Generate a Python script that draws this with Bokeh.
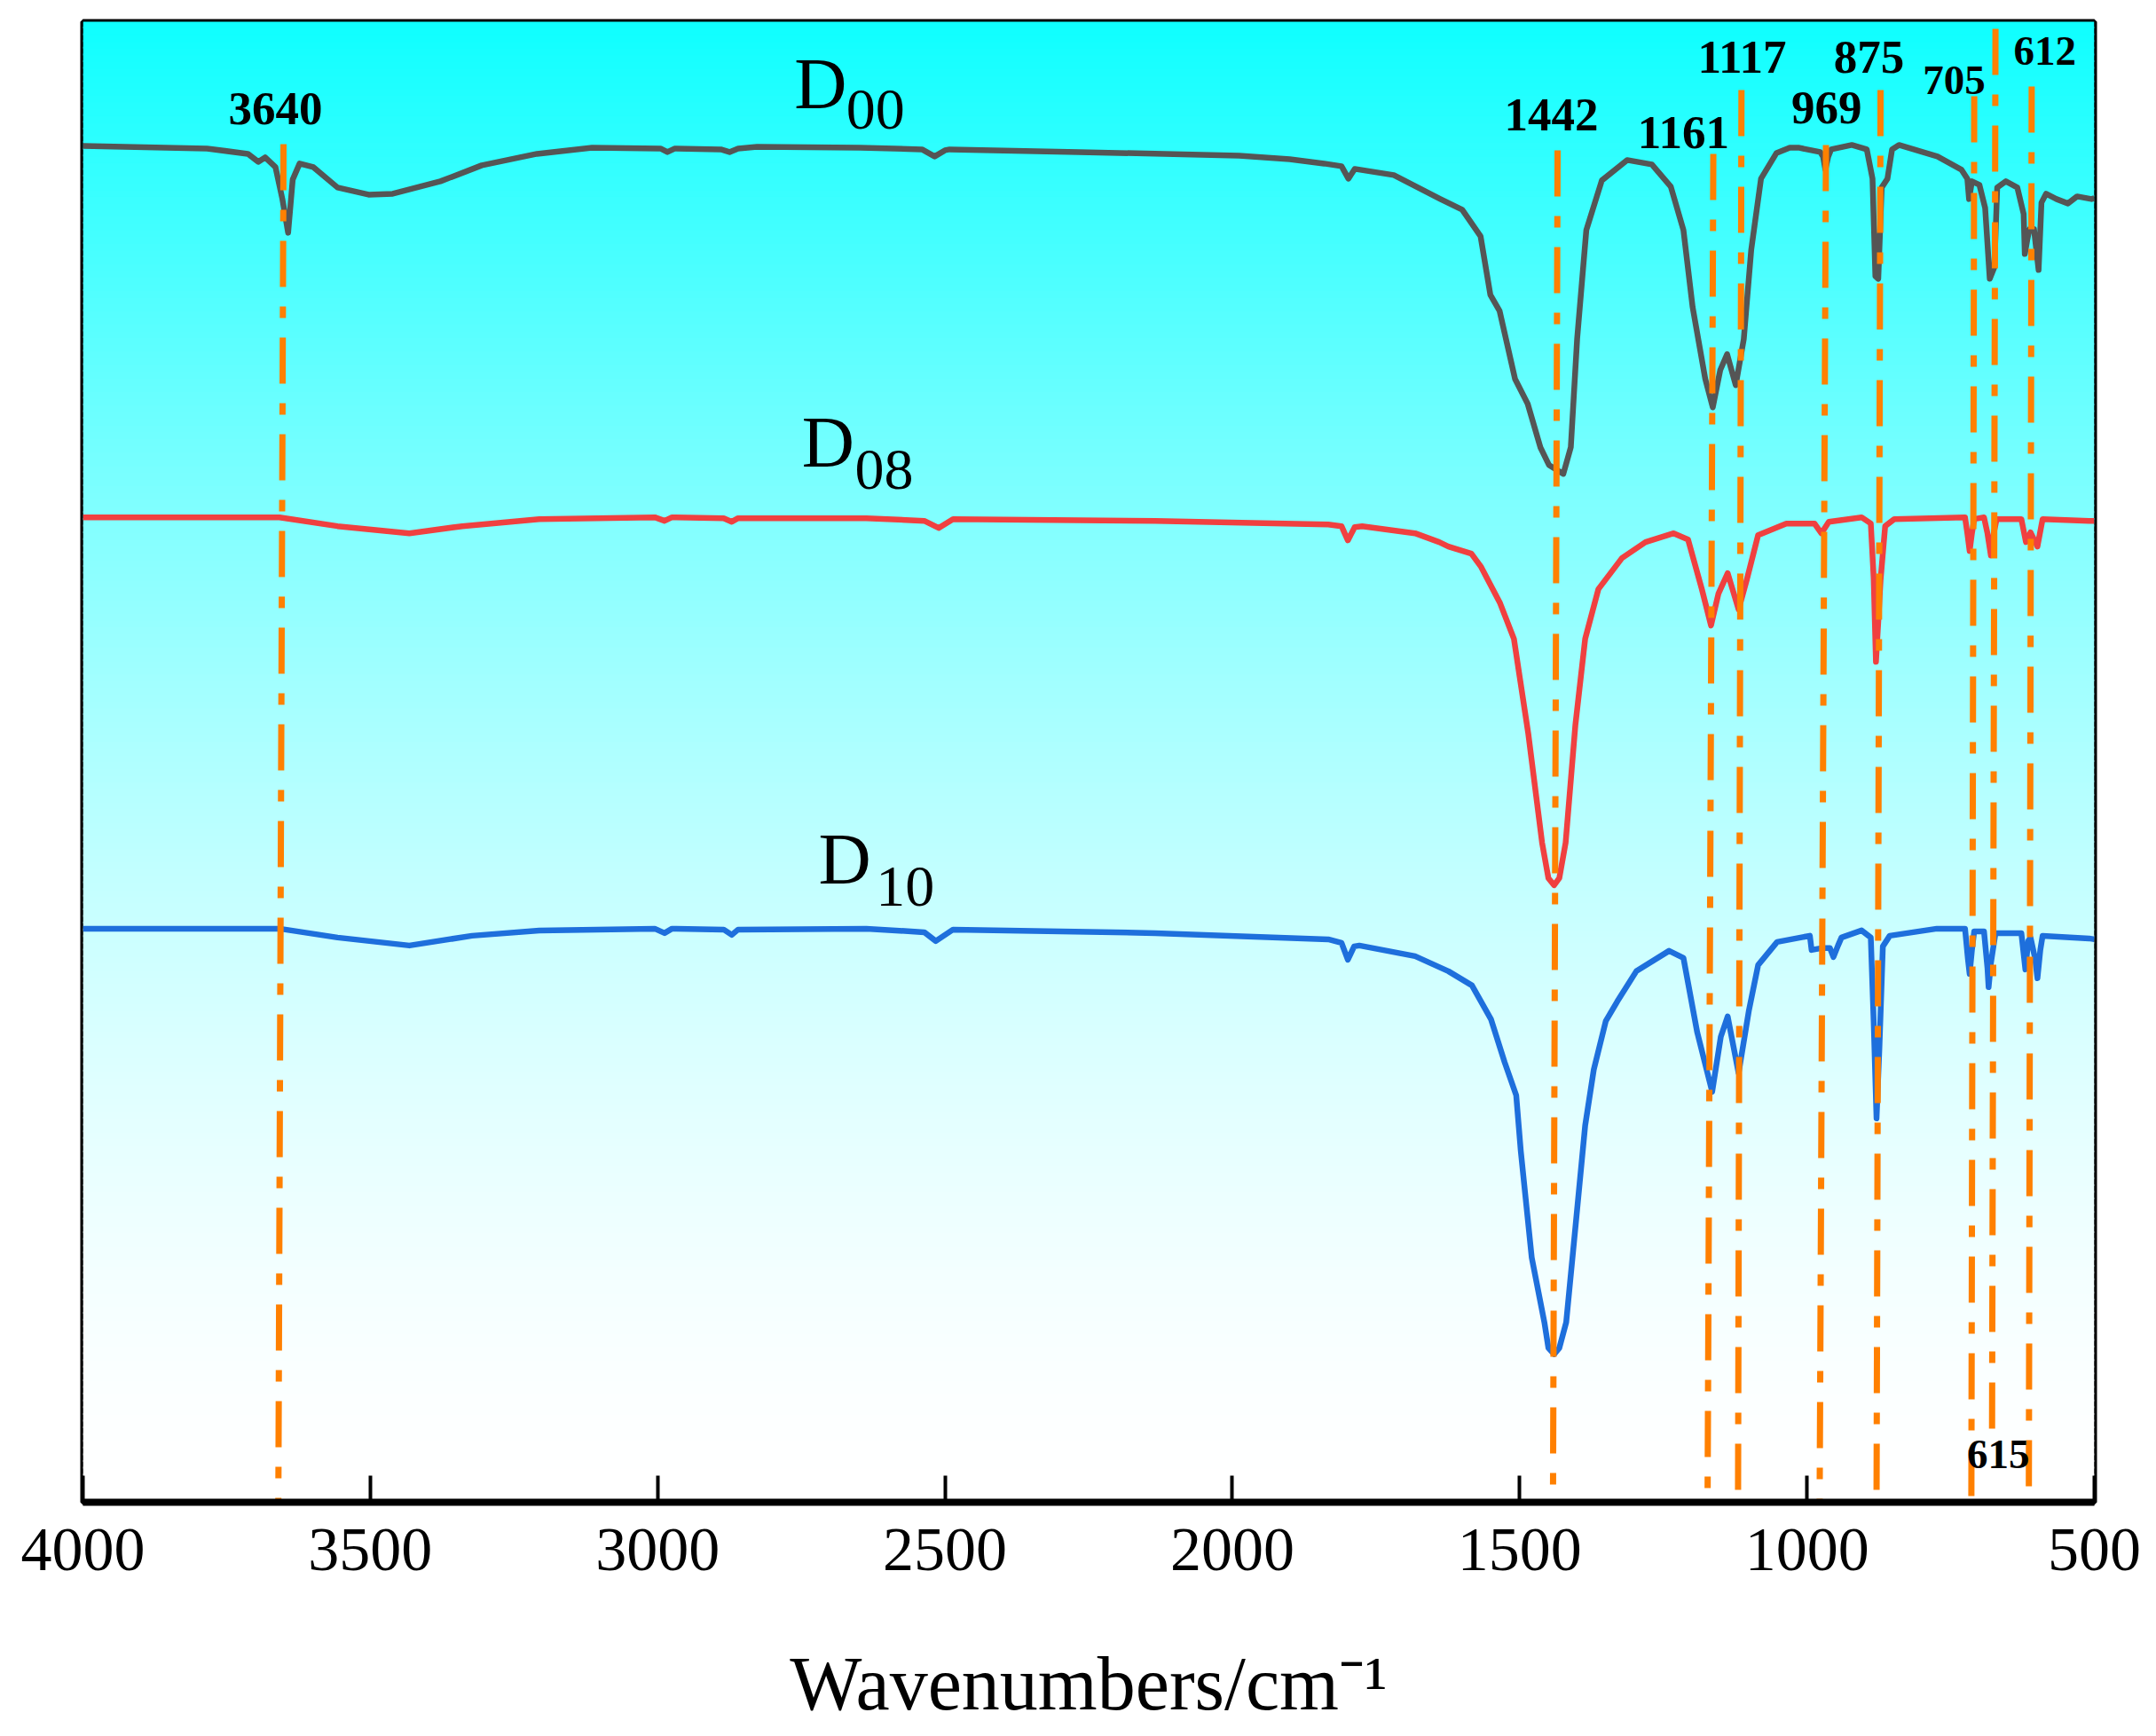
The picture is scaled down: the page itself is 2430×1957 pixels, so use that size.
import numpy as np
from bokeh.plotting import figure
from bokeh.models import Range1d, FixedTicker
from bokeh.core.properties import value
from bokeh.embed import file_html
from bokeh.resources import INLINE

# FTIR spectra (wavenumber cm-1, offset transmittance a.u.)
d00_wn = [4000, 3784, 3713, 3695, 3683, 3665, 3653, 3643, 3635, 3623, 3599, 3557, 3503, 3461,
          3378, 3306, 3210, 3114, 2995, 2983, 2970, 2890, 2875, 2860, 2827, 2648, 2540, 2518,
          2500, 2492, 2267, 1988, 1900, 1840, 1810, 1798, 1787, 1719, 1638, 1600, 1568, 1551,
          1535, 1508, 1486, 1464, 1449, 1424, 1411, 1400, 1384, 1357, 1313, 1270, 1237, 1215,
          1199, 1177, 1164, 1151, 1139, 1124, 1110, 1097, 1080, 1053, 1030, 1015, 977, 972,
          968, 963, 958, 922, 896, 886, 881, 876, 870, 860, 852, 840, 773, 731, 721, 718, 713,
          700, 690, 682, 674, 669, 654, 634, 623, 621, 617, 613, 605, 597, 592, 584, 566, 546,
          530, 505, 500]
d00_t = [153.0, 152.7, 152.1, 151.2, 151.7, 150.6, 147.0, 143.2, 149.2, 151.0, 150.6, 148.3,
         147.5, 147.6, 149.0, 150.8, 152.1, 152.8, 152.7, 152.3, 152.7, 152.6, 152.3, 152.7,
         152.9, 152.8, 152.6, 151.8, 152.5, 152.6, 152.3, 151.9, 151.5, 151.0, 150.7, 149.3,
         150.4, 149.7, 147.0, 145.8, 142.8, 136.2, 134.4, 126.7, 123.9, 119.0, 117.0, 116.0,
         119.0, 131.2, 143.5, 149.1, 151.4, 150.9, 148.4, 143.5, 134.8, 126.7, 123.5, 127.7,
         129.5, 126.0, 131.2, 141.3, 149.3, 152.2, 152.8, 152.8, 152.3, 151.8, 150.3, 151.8,
         152.6, 153.1, 152.6, 149.3, 138.3, 138.0, 148.3, 149.3, 152.6, 153.1, 151.8, 150.3,
         149.3, 147.0, 149.0, 148.6, 146.0, 138.0, 139.3, 148.3, 149.0, 148.3, 145.3, 140.8,
         142.3, 143.6, 143.6, 139.0, 146.6, 147.6, 147.0, 146.5, 147.3, 147.0, 147.1]

d08_wn = [4000, 3658, 3557, 3432, 3340, 3206, 3005, 2988, 2975, 2885, 2871, 2860, 2637, 2536,
          2511, 2486, 2134, 1833, 1810, 1799, 1787, 1774, 1682, 1640, 1624, 1584, 1567, 1534,
          1510, 1485, 1461, 1450, 1440, 1431, 1420, 1403, 1386, 1363, 1322, 1281, 1232, 1207,
          1183, 1167, 1154, 1138, 1119, 1105, 1085, 1036, 987, 975, 962, 905, 889, 884, 880,
          876, 872, 864, 848, 725, 721, 717, 713, 709, 692, 686, 680, 675, 670, 627, 619, 611,
          599, 590, 509, 500]
d08_t = [111.1, 111.1, 110.1, 109.3, 110.1, 110.9, 111.1, 110.7, 111.1, 111.0, 110.6, 111.0,
         111.0, 110.7, 109.9, 110.9, 110.7, 110.3, 110.1, 108.5, 110.0, 110.1, 109.3, 108.3,
         107.8, 107.0, 105.5, 101.4, 97.4, 86.7, 74.4, 70.4, 69.6, 70.4, 74.4, 87.7, 97.4,
         103.0, 106.5, 108.3, 109.3, 108.6, 103.0, 98.9, 102.5, 104.8, 100.7, 104.0, 109.1,
         110.4, 110.4, 109.3, 110.6, 111.1, 110.4, 104.3, 94.8, 99.3, 104.0, 110.1, 110.9,
         111.1, 109.3, 107.3, 109.3, 110.9, 111.1, 109.3, 106.8, 109.3, 110.9, 110.9, 108.3,
         109.4, 107.8, 110.9, 110.7, 110.7]

d10_wn = [4000, 3658, 3557, 3432, 3323, 3206, 3005, 2988, 2975, 2885, 2871, 2860, 2637, 2536,
          2516, 2486, 2134, 1833, 1810, 1799, 1788, 1779, 1682, 1624, 1583, 1550, 1526, 1506,
          1498, 1479, 1457, 1450, 1440, 1431, 1419, 1403, 1386, 1371, 1350, 1330, 1297, 1240,
          1215, 1191, 1165, 1150, 1138, 1119, 1101, 1085, 1052, 995, 992, 975, 960, 954, 946,
          940, 905, 889, 884, 879, 874, 868, 856, 774, 725, 720, 717, 713, 709, 692, 686, 684,
          680, 672, 627, 620, 615, 611, 603, 599, 594, 590, 509, 500]
d10_t = [64.7, 64.7, 63.7, 62.8, 63.9, 64.5, 64.7, 64.2, 64.7, 64.6, 64.0, 64.6, 64.7, 64.3,
         63.3, 64.6, 64.2, 63.5, 63.1, 61.2, 62.7, 62.8, 61.6, 59.9, 58.3, 54.5, 49.6, 45.9,
         39.6, 27.6, 20.3, 17.4, 16.7, 17.4, 20.3, 31.0, 42.5, 48.8, 54.3, 56.5, 59.9, 62.2,
         61.4, 53.0, 46.3, 52.5, 54.8, 48.4, 55.5, 60.6, 63.2, 63.9, 62.3, 62.5, 62.5, 61.5,
         62.8, 63.7, 64.5, 63.7, 54.3, 43.3, 51.3, 62.7, 63.9, 64.7, 64.7, 61.3, 59.6, 62.3,
         64.4, 64.4, 60.3, 58.1, 60.8, 64.2, 64.2, 60.1, 63.3, 63.7, 61.3, 59.1, 62.3, 63.9,
         63.6, 63.5]

# orange dash-dot guide lines at the band positions
guide_wn_top = [3651, 1434, 1163, 1114, 967, 872, 709, 672, 609]
guide_wn_bottom = [3660, 1442, 1173, 1120, 978, 879, 714, 678, 614]
guide_t_top = [153.2, 152.5, 152.1, 159.3, 153.1, 159.3, 158.6, 166.2, 159.7]
guide_t_bottom = [0, 0, 0, 0, 0, 0, 0, 7.8, 0]

# band labels
band_text = ["3640", "1442", "1161", "1117", "969", "875"]
band_wn = [3665, 1445, 1215, 1113, 966, 892]
band_t = [157.2, 156.5, 154.5, 163.0, 157.3, 163.0]
small_text = ["705", "612", "615"]
small_wn = [744, 586, 667]
small_t = [160.4, 163.7, 5.4]

# sample names
sample_main = ["D", "D", "D"]
sample_sub = ["00", "08", "10"]
sample_wn = [2762, 2749, 2720]
sample_t = [160.0, 119.6, 72.5]
sub_wn = [2672, 2657, 2620]
sub_t = [157.1, 116.5, 69.4]

ticks = [4000, 3500, 3000, 2500, 2000, 1500, 1000, 500]

p = figure(width=2428, height=1955,
           x_range=Range1d(4000, 500), y_range=Range1d(0, 167),
           output_backend="svg", toolbar_location=None,
           min_border_left=93, min_border_top=24, min_border_right=68, min_border_bottom=262)

# cyan to white vertical background
n = 220
edges = np.linspace(0, 167, n + 1)
frac = 1 - (edges[:-1] + edges[1:]) / 2 / 167
red = 255 - 241 * (1 - frac) ** 1.6
bg_colors = ["#%02xffff" % int(round(v)) for v in red]
p.quad(left=500, right=4000, bottom=edges[:-1], top=edges[1:] + 0.2,
       fill_color=bg_colors, line_color=None)

p.line(d00_wn, d00_t, line_color="#555555", line_width=6.5, line_join="round")
p.line(d08_wn, d08_t, line_color="#f04040", line_width=6.5, line_join="round")
p.line(d10_wn, d10_t, line_color="#1e6fdc", line_width=6.5, line_join="round")

p.segment(x0=guide_wn_top, y0=guide_t_top, x1=guide_wn_bottom, y1=guide_t_bottom,
          line_color="#ff8000", line_width=7, line_dash="52 22 13 22")

serif = value("Liberation Serif")
p.text(x=band_wn, y=band_t, text=band_text, text_font=serif, text_font_size="53px",
       text_font_style="bold", text_align="center", text_baseline="alphabetic", text_color="black")
p.text(x=small_wn, y=small_t, text=small_text, text_font=serif, text_font_size="47px",
       text_font_style="bold", text_align="center", text_baseline="alphabetic", text_color="black")
p.text(x=sample_wn, y=sample_t, text=sample_main, text_font=serif, text_font_size="82px",
       text_align="left", text_baseline="alphabetic", text_color="black")
p.text(x=sub_wn, y=sub_t, text=sample_sub, text_font=serif, text_font_size="66px",
       text_align="left", text_baseline="alphabetic", text_color="black")

p.yaxis.visible = False
p.xgrid.grid_line_color = None
p.ygrid.grid_line_color = None
p.outline_line_color = "black"
p.outline_line_width = 6
p.outline_line_alpha = 1.0
p.background_fill_color = "white"
p.border_fill_color = "white"

ax = p.xaxis[0]
ax.ticker = FixedTicker(ticks=ticks)
ax.axis_line_width = 8
ax.axis_line_color = "black"
ax.major_tick_in = 30
ax.major_tick_out = 0
ax.major_tick_line_width = 4
ax.major_tick_line_color = "black"
ax.minor_tick_line_color = None
ax.major_label_text_font = "Liberation Serif"
ax.major_label_text_font_size = "70px"
ax.major_label_text_color = "black"
ax.major_label_standoff = 30
ax.axis_label = "Wavenumbers/cm\u207b\u00b9"
ax.axis_label_text_font = "Liberation Serif"
ax.axis_label_text_font_size = "86px"
ax.axis_label_text_font_style = "normal"
ax.axis_label_text_color = "black"
ax.axis_label_standoff = 77

open("out.html", "w").write(file_html(p, INLINE))
